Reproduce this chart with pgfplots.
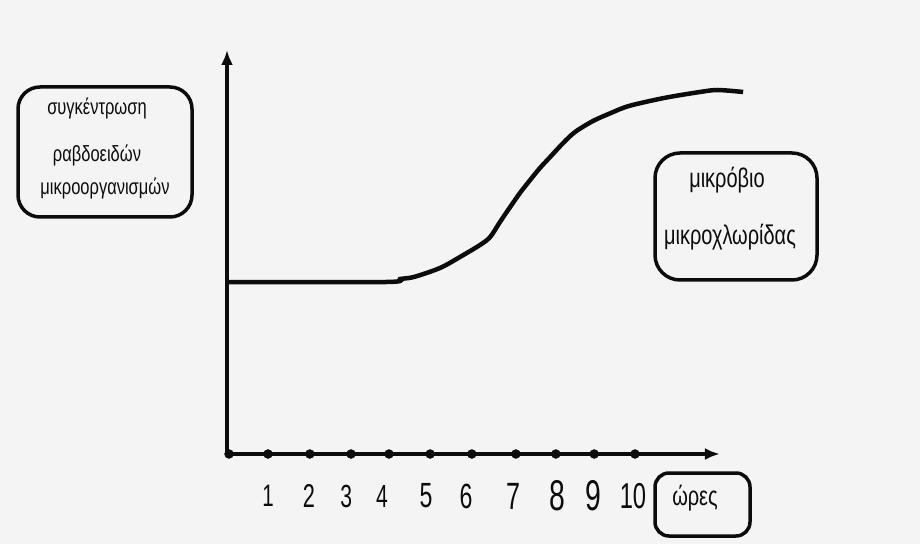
\documentclass[border=0pt]{standalone}
\usepackage{fontspec}
\usepackage{pgfplots}
\pgfplotsset{compat=1.18}
\usetikzlibrary{arrows.meta}
\newfontfamily\gk[FakeStretch=0.75]{Liberation Sans}
\newfontfamily\gkb[FakeStretch=0.74]{Liberation Sans}
\newfontfamily\dg[FakeStretch=0.66]{Liberation Sans}
\definecolor{bg}{HTML}{F4F4F4}
\definecolor{ink}{HTML}{0C0C0C}
\newcommand{\fs}[1]{\fontsize{#1}{#1}\selectfont}
\begin{document}
\begin{tikzpicture}[x=1pt,y=1pt]
\useasboundingbox (0,0) rectangle (920,544);
\fill[bg] (0,0) rectangle (920,544);
\begin{axis}[
  at={(227pt,90pt)}, anchor=south west,
  x=40.8pt, y=10pt,
  xmin=0, xmax=12.08, ymin=0, ymax=40.4,
  axis x line=bottom, axis y line=left,
  axis line style={line width=3.5pt, ink, -{Latex[length=15pt,width=12pt]}},
  ytick=\empty,
  xtick={1.005,2.01,2.92,3.80,4.88,5.86,7.03,8.09,8.97,9.95},
  xticklabels={{\fs{31}1},{\fs{33}2},{\fs{32}3},{\fs{32}4},{\fs{35}5},{\fs{35}6},{\fs{38}7},{\fs{43}8},{\fs{43}9},{\fs{36}10}},
  major tick length=0pt,
  xticklabel style={anchor=center, yshift=-42pt, font=\dg, text=ink},
  clip=false,
]
\addplot[only marks, mark=*, mark size=4.5pt, ink] coordinates {
(0.05,0) (1.005,0) (2.03,0) (3.04,0) (3.97,0) (4.98,0) (6.0,0) (7.08,0) (8.06,0) (9.0,0) (10.0,0)
};
\addplot[smooth, line width=4.5pt, ink] coordinates {
(0,17.2) (3.90,17.2) (4.24,17.5) (4.58,17.7) (5.22,18.6) (5.71,19.7) (6.20,20.9) (6.45,21.7) (6.69,23.2) (6.94,24.7) (7.18,26.1) (7.43,27.4) (7.67,28.6) (7.92,29.7) (8.24,31.1) (8.53,32.2) (8.97,33.3) (9.41,34.1) (9.85,34.8) (10.71,35.6) (11.59,36.2) (12.03,36.4) (12.65,36.2)
};
\end{axis}
\draw[line width=3.5pt, ink, rounded corners=22pt] (18,327) rectangle (192,457);
\draw[line width=3.5pt, ink, rounded corners=25pt] (655,264) rectangle (817,391);
\draw[line width=3.5pt, ink, rounded corners=14pt] (655,8) rectangle (750,71);
\node[font=\gk\fs{22}, text=ink] at (97,436) {συγκέντρωση};
\node[font=\gk\fs{22}, text=ink] at (97,389) {ραβδοειδών};
\node[font=\gk\fs{22}, text=ink] at (105,356) {μικροοργανισμών};
\node[font=\gkb\fs{27}, text=ink] at (727,364) {μικρόβιο};
\node[font=\gkb\fs{27}, text=ink] at (730,307) {μικροχλωρίδας};
\node[font=\gkb\fs{27}, text=ink] at (695,46) {ώρες};
\end{tikzpicture}
\end{document}
